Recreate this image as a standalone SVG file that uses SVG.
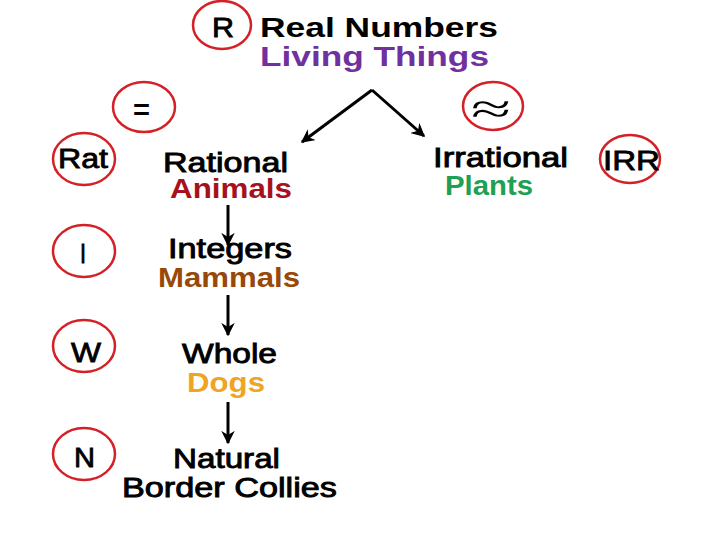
<svg xmlns="http://www.w3.org/2000/svg" width="720" height="540" viewBox="0 0 720 540">
<defs>
<style>
.c{fill:none;stroke:#D42027;stroke-width:2.5}
.t{font-family:"Liberation Sans",Arial,sans-serif;font-size:27px;font-weight:bold}
.r{font-family:"Liberation Sans",Arial,sans-serif;font-size:28px;font-weight:normal;fill:#000;stroke:#000;stroke-width:0.9}
.l{font-family:"Liberation Sans",Arial,sans-serif;font-size:27px;font-weight:normal;fill:#000;stroke:#000;stroke-width:0.8}
.e{stroke:#000;stroke-width:3;fill:none}
</style>
<marker id="ah" viewBox="0 0 10 10" refX="9" refY="5" markerWidth="4.5" markerHeight="4.5" orient="auto" markerUnits="strokeWidth">
<path d="M0,0 L10,5 L0,10 L3,5 Z" fill="#000"/>
</marker>
</defs>
<rect width="720" height="540" fill="#fff"/>
<g id="title">
<ellipse class="c" cx="222" cy="25" rx="29" ry="24"/>
<text class="l" x="212" y="37" textLength="22" lengthAdjust="spacingAndGlyphs">R</text>
<text class="t" x="260" y="37" textLength="238" lengthAdjust="spacingAndGlyphs" fill="#000">Real Numbers</text>
<text class="t" x="260" y="66" textLength="229" lengthAdjust="spacingAndGlyphs" fill="#7030A0">Living Things</text>
</g>
<g id="eq">
<ellipse class="c" cx="144" cy="107" rx="31" ry="25"/>
<text class="t" x="133" y="119" textLength="17" lengthAdjust="spacingAndGlyphs">=</text>
</g>
<g id="approx">
<ellipse class="c" cx="493" cy="106" rx="30" ry="24"/>
<text x="471" y="123" font-family="Liberation Serif,serif" font-size="42" textLength="40" lengthAdjust="spacingAndGlyphs">≈</text>
</g>
<g id="rational">
<ellipse class="c" cx="84" cy="159" rx="31" ry="26"/>
<text class="l" x="58" y="168" textLength="50" lengthAdjust="spacingAndGlyphs">Rat</text>
<text class="r" x="163" y="172" font-size="27" textLength="125" lengthAdjust="spacingAndGlyphs">Rational</text>
<text class="t" x="170" y="198" textLength="122" lengthAdjust="spacingAndGlyphs" fill="#A6111C">Animals</text>
</g>
<g id="integers">
<ellipse class="c" cx="84" cy="251" rx="31" ry="26"/>
<text class="l" x="80" y="263" textLength="6" lengthAdjust="spacingAndGlyphs">I</text>
<text class="r" x="168" y="258" textLength="124" lengthAdjust="spacingAndGlyphs">Integers</text>
<text class="t" x="158" y="287" textLength="142" lengthAdjust="spacingAndGlyphs" fill="#984807">Mammals</text>
</g>
<g id="whole">
<ellipse class="c" cx="84" cy="346" rx="31" ry="26"/>
<text class="l" x="71" y="362" textLength="30" lengthAdjust="spacingAndGlyphs">W</text>
<text class="r" x="182" y="363" textLength="95" lengthAdjust="spacingAndGlyphs">Whole</text>
<text class="t" x="187" y="392" textLength="78" lengthAdjust="spacingAndGlyphs" fill="#F0A424">Dogs</text>
</g>
<g id="natural">
<ellipse class="c" cx="84" cy="454" rx="31" ry="26"/>
<text class="l" x="74" y="467" textLength="21" lengthAdjust="spacingAndGlyphs">N</text>
<text class="r" x="173" y="468" textLength="107" lengthAdjust="spacingAndGlyphs">Natural</text>
<text class="r" x="122" y="497" textLength="215" lengthAdjust="spacingAndGlyphs">Border Collies</text>
</g>
<g id="irrational">
<text class="r" x="433" y="167" textLength="135" lengthAdjust="spacingAndGlyphs">Irrational</text>
<text class="t" x="445" y="195" textLength="88" lengthAdjust="spacingAndGlyphs" fill="#20A052">Plants</text>
<ellipse class="c" cx="630" cy="159" rx="30" ry="24"/>
<text class="l" x="603" y="170" textLength="57" lengthAdjust="spacingAndGlyphs">IRR</text>
</g>
<g id="connectors">
<path class="e" d="M372,90 L302,142" marker-end="url(#ah)"/>
<path class="e" d="M372,90 L424,136" marker-end="url(#ah)"/>
<path class="e" d="M228,205 L228,245" marker-end="url(#ah)"/>
<path class="e" d="M228,295 L228,335" marker-end="url(#ah)"/>
<path class="e" d="M228,402 L228,443" marker-end="url(#ah)"/>
</g>
</svg>
